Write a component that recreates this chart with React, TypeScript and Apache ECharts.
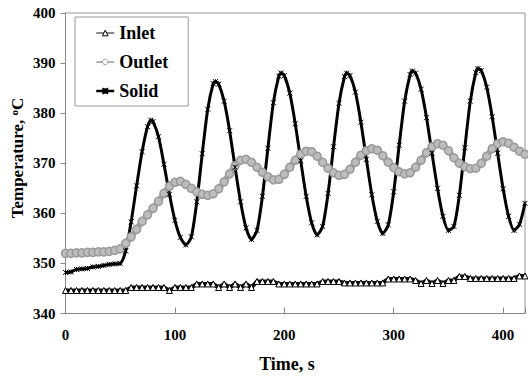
import React, { useEffect, useRef } from 'react';
import * as echarts from 'echarts';

const FONT = '"Liberation Serif", "Times New Roman", serif';

const SERIES_NAMES = ['Inlet', 'Outlet', 'Solid'];
const X_TICK_LABELS = [0, 100, 200, 300, 400];
const Y_TICK_LABELS = [340, 350, 360, 370, 380, 390, 400];

// sample times (s) for Inlet and Outlet
const TIME = [
  0, 5, 10, 15, 20, 25, 30, 35, 40, 45, 50, 55, 60, 65, 70, 75, 80, 85, 90, 95,
  100, 105, 110, 115, 120, 125, 130, 135, 140, 145, 150, 155, 160, 165, 170, 175, 180, 185, 190, 195,
  200, 205, 210, 215, 220, 225, 230, 235, 240, 245, 250, 255, 260, 265, 270, 275, 280, 285, 290, 295,
  300, 305, 310, 315, 320, 325, 330, 335, 340, 345, 350, 355, 360, 365, 370, 375, 380, 385, 390, 395,
  400, 405, 410, 415, 420,
];

const INLET = [
  344.6, 344.6, 344.6, 344.6, 344.6, 344.6, 344.6, 344.6, 344.6, 344.6, 344.6, 344.6, 345.2, 345.2, 345.2, 345.2, 345.2, 345.2, 345.2, 344.6,
  345.2, 345.2, 345.2, 345.2, 345.9, 345.9, 345.9, 345.9, 345.2, 345.9, 345.2, 345.9, 345.2, 345.9, 345.2, 346.4, 346.4, 346.4, 346.4, 345.9,
  345.9, 345.9, 345.9, 345.9, 345.9, 345.9, 345.9, 346.4, 346.4, 346.4, 346.4, 346.1, 346.1, 346.1, 346.1, 346.1, 346.1, 346.1, 346.1, 346.9,
  346.9, 346.9, 346.9, 346.9, 346.6, 346.0, 346.6, 346.0, 346.6, 346.0, 346.6, 346.6, 347.4, 347.4, 347.0, 347.0, 347.0, 347.0, 347.0, 347.0,
  347.0, 347.0, 347.0, 347.5, 347.5,
];

const OUTLET = [
  352.0, 352.0, 352.1, 352.1, 352.2, 352.2, 352.3, 352.3, 352.4, 352.6, 352.9, 354.0, 355.3, 356.8, 358.4, 359.7, 361.0, 362.4, 364.0, 365.4,
  366.2, 366.4, 365.8, 365.0, 364.3, 363.8, 363.6, 363.9, 364.9, 366.3, 367.9, 369.5, 370.6, 370.8, 370.2, 369.2, 368.2, 367.3, 366.7, 366.8,
  367.8, 369.2, 370.6, 371.8, 372.4, 372.3, 371.4, 370.2, 369.0, 368.1, 367.6, 367.8, 368.8, 370.2, 371.6, 372.5, 372.9, 372.6, 371.5, 370.2,
  369.1, 368.3, 367.9, 368.1, 369.2, 370.6, 372.1, 373.3, 373.9, 373.6, 372.5, 371.1, 370.0, 369.3, 368.9, 369.0, 370.0, 371.4, 372.9, 373.9,
  374.3, 374.0, 373.2, 372.4, 371.8,
];

// Solid: sample times include the peaks
const SOLID_TIME = [
  0, 5, 10, 15, 20, 25, 30, 35, 40, 45, 50, 55, 60, 65, 70, 75, 78, 80, 85, 90, 95,
  100, 105, 110, 115, 120, 125, 130, 135, 137, 140, 145, 150, 155, 160, 165, 170, 175, 180, 185, 190, 195, 197,
  200, 205, 210, 215, 220, 225, 230, 235, 240, 245, 250, 255, 257, 260, 265, 270, 275, 280, 285, 290, 295,
  300, 305, 310, 315, 317, 320, 325, 330, 335, 340, 345, 350, 355, 360, 365, 370, 375, 377, 380, 385, 390, 395,
  400, 405, 410, 415, 420,
];
const SOLID = [
  348.2, 348.3, 348.8, 348.9, 349.0, 349.3, 349.4, 349.6, 349.8, 349.9, 350.0, 352.5, 358.3, 365.5, 372.3, 377.3, 378.6, 378.3, 375.3, 369.8, 363.8,
  358.6, 355.2, 353.7, 355.3, 362.3, 371.9, 380.8, 385.9, 386.3, 385.8, 382.4, 376.5, 369.2, 362.3, 357.1, 354.8, 356.6, 363.4, 373.0, 382.1, 387.4, 388.0,
  387.5, 384.0, 377.9, 370.5, 363.4, 358.1, 355.7, 357.4, 364.0, 373.3, 382.0, 387.3, 388.0, 387.5, 384.2, 378.2, 370.8, 363.7, 358.4, 356.0, 357.7,
  364.3, 373.6, 382.4, 387.7, 388.4, 388.0, 384.8, 379.1, 372.0, 365.0, 359.4, 356.6, 357.4, 363.6, 373.1, 382.4, 388.1, 388.9, 388.5, 385.2, 379.3, 372.0,
  364.9, 359.4, 356.6, 357.8, 362.0,
];

const pair = (t: number[], v: number[]) => t.map((x, i) => [x, v[i]]);

export default function App() {
  const ref = useRef<HTMLDivElement>(null);
  useEffect(() => {
    const chart = echarts.init(ref.current!, null, { renderer: 'svg' });
    const labelStyle = { fontFamily: FONT, fontWeight: 'bold', fontSize: 15, color: '#000' };
    chart.setOption({
      animation: false,
      backgroundColor: '#fff',
      grid: {
        left: 65.5, right: 1, top: 13, bottom: 62.5,
        show: true, borderColor: '#999', borderWidth: 1, backgroundColor: 'transparent',
      },
      xAxis: {
        type: 'value', min: 0, max: 420, interval: 100,
        axisLine: { show: true, lineStyle: { color: '#888', width: 1 } },
        axisTick: { show: true, inside: true, length: 6, lineStyle: { color: '#888' } },
        axisLabel: {
          ...labelStyle, margin: 14,
          formatter: (v: number) => (X_TICK_LABELS.includes(v) ? String(v) : ''),
        },
        splitLine: { show: false },
      },
      yAxis: {
        type: 'value', min: 340, max: 400, interval: 10,
        axisLine: { show: true, lineStyle: { color: '#888', width: 1 } },
        axisTick: { show: true, inside: false, length: 5, lineStyle: { color: '#888' } },
        axisLabel: {
          ...labelStyle, margin: 10,
          formatter: (v: number) => (Y_TICK_LABELS.includes(v) ? String(v) : ''),
        },
        splitLine: { show: false },
      },
      legend: {
        data: [
          { name: SERIES_NAMES[0], lineStyle: { width: 1 }, itemStyle: { color: '#fff', borderColor: '#000', borderWidth: 1 } },
          { name: SERIES_NAMES[1], lineStyle: { width: 1.5, color: '#999' }, itemStyle: { color: '#fff', borderColor: '#999', borderWidth: 1 } },
          { name: SERIES_NAMES[2], lineStyle: { width: 2.5, color: '#000' } },
        ],
        orient: 'vertical', left: 75, top: 17,
        padding: [7, 20, 6, 20], itemGap: 11, itemWidth: 18, itemHeight: 7,
        borderColor: '#999', borderWidth: 1, backgroundColor: '#fff',
        textStyle: { fontFamily: FONT, fontWeight: 'bold', fontSize: 18, color: '#000' },
      },
      series: [
        {
          name: SERIES_NAMES[0], type: 'line', data: pair(TIME, INLET),
          symbol: 'triangle', symbolSize: 6,
          itemStyle: { color: '#fff', borderColor: '#000', borderWidth: 1 },
          lineStyle: { color: '#111', width: 4 },
        },
        {
          name: SERIES_NAMES[1], type: 'line', data: pair(TIME, OUTLET), smooth: 0.3,
          symbol: 'circle', symbolSize: 8,
          itemStyle: { color: '#bdbdbd', borderColor: '#9a9a9a', borderWidth: 1.5 },
          lineStyle: { color: '#a6a6a6', width: 6 },
        },
        {
          name: SERIES_NAMES[2], type: 'line', data: pair(SOLID_TIME, SOLID), smooth: 0.25,
          symbol: 'path://M0 0L10 10M10 0L0 10M5 0L5 10', symbolSize: 5,
          itemStyle: { color: '#000', borderColor: '#000', borderWidth: 1 },
          lineStyle: { color: '#000', width: 3 },
        },
      ],
      graphic: [
        {
          type: 'text', x: 287, y: 364,
          style: {
            text: 'Time, s', font: `bold 18px ${FONT}`, fill: '#000',
            textAlign: 'center', textVerticalAlign: 'middle',
          },
        },
        {
          type: 'text', x: 17, y: 158, rotation: Math.PI / 2,
          style: {
            text: '{n|Temperature, }{s|o}{n|C}', fill: '#000',
            font: `bold 17px ${FONT}`,
            textAlign: 'center', textVerticalAlign: 'middle',
            rich: {
              n: { fontFamily: FONT, fontWeight: 'bold', fontSize: 17, fill: '#000', lineHeight: 18 },
              s: { fontFamily: FONT, fontWeight: 'bold', fontSize: 11, fill: '#000', verticalAlign: 'top', lineHeight: 18 },
            },
          },
        },
      ],
    });
    return () => chart.dispose();
  }, []);
  return (
    <div
      ref={ref}
      style={{ position: 'fixed', left: 0, top: 0, width: 528, height: 376, background: '#fff' }}
    />
  );
}
